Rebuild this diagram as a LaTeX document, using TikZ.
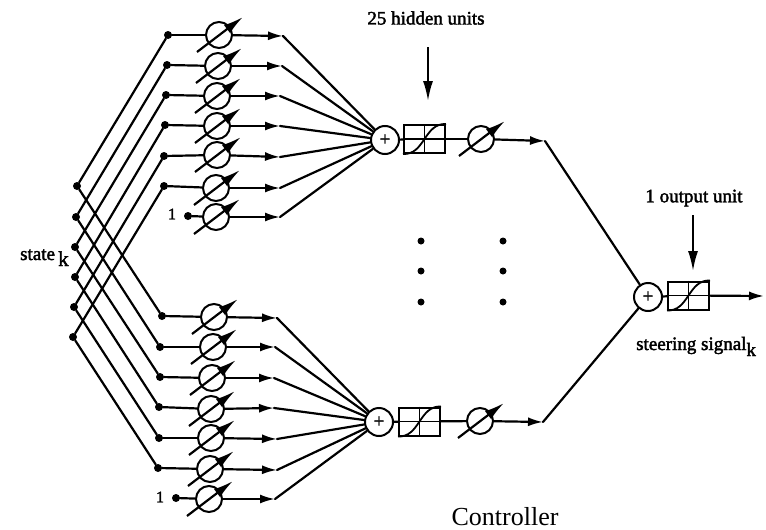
\documentclass[tikz,border=0pt]{standalone}
\usepackage{fontspec}
\setmainfont{Liberation Serif}
\newfontfamily\scanfont[FakeBold=2]{Liberation Serif}
\usetikzlibrary{arrows.meta}
\tikzset{
  x=1pt,y=-1pt,
  wire/.style={line width=2.2pt,line cap=round},
  flow/.style={wire,-{Latex[length=15pt,width=9pt]}},
  pointer/.style={line width=2pt,-{Latex[length=20pt,width=10pt]}},
  dotnode/.style={circle,fill=black,inner sep=0pt,minimum size=8pt},
  weight/.style={circle,draw,line width=2pt,inner sep=0pt,minimum size=26pt},
  sumnode/.style={circle,draw,fill=white,line width=2pt,inner sep=0pt,minimum size=28pt,font=\scanfont\fontsize{19}{19}\selectfont},
  sigbox/.style={rectangle,draw,line width=2pt,inner sep=0pt,minimum width=41pt,minimum height=28pt},
  labeltext/.style={inner sep=0pt,font=\scanfont\fontsize{19}{20}\selectfont},
  onetext/.style={inner sep=0pt,font=\scanfont\fontsize{16}{18}\selectfont},
  bigdot/.style={circle,fill=black,inner sep=0pt,minimum size=7pt},
  slash/.style={line width=2.2pt,-{Latex[length=20pt,width=10pt]}},
}
\newcommand{\slashthrough}[1]{\draw[slash] ([shift={(-22,17)}]#1.center) -- ([shift={(24,-18)}]#1.center);}
\newcommand{\sigmoid}[1]{%
  \draw[line width=1.5pt] (#1.west) -- (#1.east) (#1.north) -- (#1.south);
  \draw[line width=1.8pt] (#1.south west) .. controls ([xshift=22pt,yshift=-1pt]#1.south west) and ([xshift=-22pt,yshift=1pt]#1.north east) .. (#1.north east);}
\begin{document}
\begin{tikzpicture}
\useasboundingbox (0,0) rectangle (766,530);
% sums and output path
\node[sumnode] (tsum) at (385,140) {+};
\node[sumnode] (bsum) at (379,422) {+};
\node[sumnode] (osum) at (648,297) {+};
\node[sigbox] (tbox) at (424.5,139) {};
\node[sigbox] (bbox) at (419.5,421.5) {};
\node[sigbox] (obox) at (688.5,295.5) {};
\sigmoid{tbox}\sigmoid{bbox}\sigmoid{obox}
\node[weight] (tw) at (481,139) {};
\node[weight] (bw) at (480,421) {};
\coordinate (tj) at (545,141);
\coordinate (bj) at (543,422);
\coordinate (oend) at (764,296);
\draw[wire] (tsum) -- (tbox);
\draw[wire] (bsum) -- (bbox);
\draw[wire] (osum) -- (obox);
\draw[wire] (tbox) -- (tw);
\draw[wire] (bbox) -- (bw);
\draw[flow] (tw) -- (tj);
\draw[flow] (bw) -- (bj);
\draw[wire] (tj) -- (osum);
\draw[wire] (bj) -- (osum);
\draw[flow] (obox) -- (oend);
\slashthrough{tw}\slashthrough{bw}
% state dots
\foreach \i/\x/\y in {1/77/186,2/76/217,3/75/247,4/75/277,5/74/307,6/73/337}
  \node[dotnode] (s\i) at (\x,\y) {};
% top branch
\foreach \i/\dx/\dy/\cx/\cy/\jx/\jy in {
  1/168/35/219/35/283/36, 2/167/65/218/66/282/66, 3/166/95/217/96/280/96,
  4/165/125/217/126/280/126, 5/164/156/217/155/280/157, 6/164/186/216/188/280/188,
  7/188/216/216/217/280/217}{
  \node[dotnode] (td\i) at (\dx,\dy) {};
  \node[weight] (tw\i) at (\cx,\cy) {};
  \coordinate (tj\i) at (\jx,\jy);
  \draw[wire] (td\i) -- (tw\i);
  \draw[flow] (tw\i) -- (tj\i);
  \draw[wire] (tj\i) -- (tsum);
  \slashthrough{tw\i}
}
% bottom branch
\foreach \i/\dx/\dy/\cx/\cy/\jx/\jy in {
  1/162/316/214/317/277/318, 2/160/347/213/347/275/347, 3/160/377/212/378/274/378,
  4/159/407/211/409/274/408, 5/159/438/211/438/277/439, 6/158/468/210/469/277/470,
  7/176/498/209/499/275/499}{
  \node[dotnode] (bd\i) at (\dx,\dy) {};
  \node[weight] (bw\i) at (\cx,\cy) {};
  \coordinate (bj\i) at (\jx,\jy);
  \draw[wire] (bd\i) -- (bw\i);
  \draw[flow] (bw\i) -- (bj\i);
  \draw[wire] (bj\i) -- (bsum);
  \slashthrough{bw\i}
}
% state fan-out
\foreach \i in {1,...,6}{
  \draw[wire] (s\i) -- (td\i);
  \draw[wire] (s\i) -- (bd\i);
}
% ellipsis dots
\foreach \x in {421,503}\foreach \y in {241,271,302}
  \node[bigdot] at (\x,\y) {};
% labels and pointers
\node[labeltext] (hid) at (426,18) {25 hidden units};
\node[labeltext] (out) at (694,198) {1 output unit};
\coordinate (ha) at (428,47); \coordinate (hb) at (428,101);
\coordinate (oa) at (693,215); \coordinate (ob) at (693,271);
\draw[pointer] (ha) -- (hb);
\draw[pointer] (oa) -- (ob);
\node[labeltext,anchor=base west] (st) at (20,260) {state\,\raisebox{-6pt}{\fontsize{21}{21}\selectfont k}};
\node[labeltext,anchor=base west] (sg) at (636,350) {steering signal\raisebox{-6pt}{\fontsize{19}{19}\selectfont k}};
\node[onetext] (one1) at (172,214) {1};
\node[onetext] (one2) at (160,497) {1};
\node[inner sep=0pt,font=\fontsize{26}{28}\selectfont] (ctl) at (505,517) {Controller};
\end{tikzpicture}
\end{document}
